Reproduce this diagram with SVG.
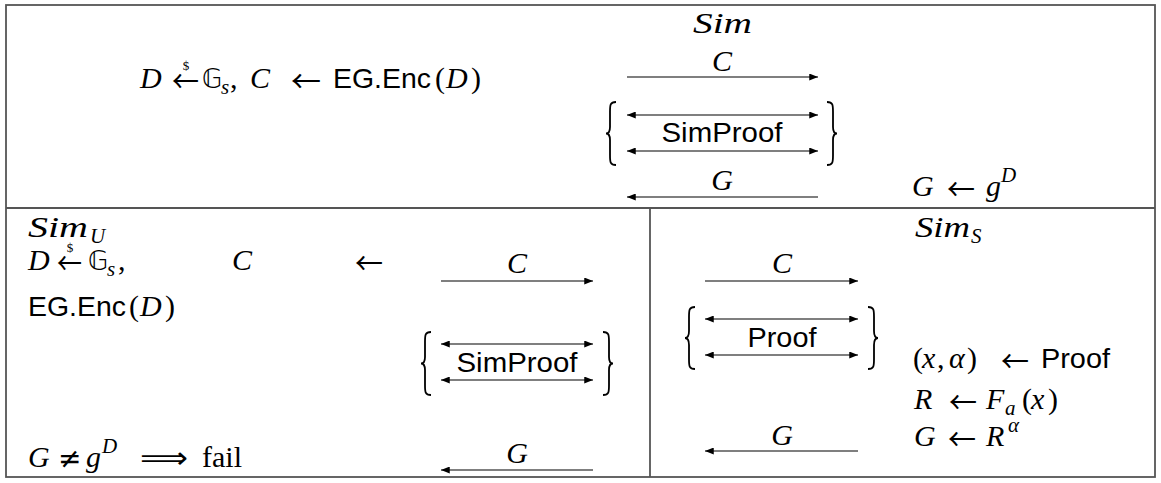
<svg xmlns="http://www.w3.org/2000/svg" width="1161" height="483" viewBox="0 0 1161 483">
<style>
.m{font-family:"Liberation Serif",serif;font-style:italic;font-size:30px;fill:#000}
.r{font-family:"Liberation Serif",serif;font-size:30px;fill:#000}
.sb{font-family:"Liberation Serif",serif;font-style:italic;font-size:21px;fill:#000}
.s{font-family:"Liberation Sans",sans-serif;font-size:28px;fill:#000}
.ds{font-family:"DejaVu Sans",sans-serif;font-size:26px;fill:#000}
.ar{font-family:"Noto Sans CJK SC","DejaVu Sans",sans-serif;font-size:30px;fill:#000}
.ar2{font-family:"DejaVu Sans",sans-serif;font-size:30px;fill:#000}
.dl{font-family:"Liberation Serif",serif;font-size:13px;fill:#000;text-anchor:middle}
.c{text-anchor:middle}
.frame{fill:none;stroke:#555;stroke-width:1.8}
.ln{stroke:#000;stroke-width:1.2;fill:none}
.br{stroke:#000;stroke-width:1.8;fill:none}
</style>
<defs>
<marker id="ah" viewBox="0 0 10 8" refX="10" refY="4" markerWidth="10" markerHeight="7" markerUnits="userSpaceOnUse" orient="auto-start-reverse">
<path d="M0,0 L10,4 L0,8 Z" fill="#000"/>
</marker>
</defs>
<g id="frame">
<rect class="frame" x="6" y="5" width="1149" height="472"/>
<line class="frame" x1="6" y1="208" x2="1155" y2="208"/>
<line class="frame" x1="650" y1="208" x2="650" y2="477"/>
</g>
<g id="connectors">
<line class="ln" x1="627" y1="77" x2="818" y2="77" marker-end="url(#ah)"/>
<line class="ln" x1="627" y1="115" x2="818" y2="115" marker-start="url(#ah)" marker-end="url(#ah)"/>
<line class="ln" x1="627" y1="151" x2="818" y2="151" marker-start="url(#ah)" marker-end="url(#ah)"/>
<line class="ln" x1="818" y1="197" x2="627" y2="197" marker-end="url(#ah)"/>
<line class="ln" x1="441" y1="281" x2="593" y2="281" marker-end="url(#ah)"/>
<line class="ln" x1="441" y1="344" x2="593" y2="344" marker-start="url(#ah)" marker-end="url(#ah)"/>
<line class="ln" x1="441" y1="380" x2="593" y2="380" marker-start="url(#ah)" marker-end="url(#ah)"/>
<line class="ln" x1="593" y1="470" x2="441" y2="470" marker-end="url(#ah)"/>
<line class="ln" x1="705" y1="281" x2="858" y2="281" marker-end="url(#ah)"/>
<line class="ln" x1="705" y1="319" x2="858" y2="319" marker-start="url(#ah)" marker-end="url(#ah)"/>
<line class="ln" x1="705" y1="355" x2="858" y2="355" marker-start="url(#ah)" marker-end="url(#ah)"/>
<line class="ln" x1="858" y1="451" x2="705" y2="451" marker-end="url(#ah)"/>
</g>
<g id="top-setup">
<text class="m" x="140" y="88">D</text>
<text class="ar" x="172" y="92" textLength="27" lengthAdjust="spacingAndGlyphs">←</text>
<text class="dl" x="186" y="70">$</text>
<text class="ds" x="202" y="88">𝔾</text>
<text class="sb" x="221" y="94">s</text>
<text class="r" x="230" y="88">,</text>
<text class="m" x="250" y="88">C</text>
<text class="ar" x="291" y="92" textLength="30" lengthAdjust="spacingAndGlyphs">←</text>
<text class="s" x="333" y="88" textLength="98" lengthAdjust="spacingAndGlyphs">EG.Enc</text>
<text class="r" x="435" y="88">(</text>
<text class="m" x="446" y="88">D</text>
<text class="r" x="471" y="88">)</text>
</g>
<g id="top-sim">
<text class="m" x="693" y="33" textLength="59" lengthAdjust="spacingAndGlyphs">Sim</text>
<text class="m c" x="722" y="71">C</text>
<path class="br" d="M616,102 C610,102 610,105 610,112 L610,127 C610,131 609,133.5 606,133.5 C609,133.5 610,136 610,140 L610,155 C610,162 610,165 616,165"/>
<text class="s c" x="722" y="142" textLength="121" lengthAdjust="spacingAndGlyphs">SimProof</text>
<path class="br" d="M827,102 C833,102 833,105 833,112 L833,127 C833,131 834,133.5 837,133.5 C834,133.5 833,136 833,140 L833,155 C833,162 833,165 827,165"/>
<text class="m c" x="722" y="190">G</text>
</g>
<g id="top-result">
<text class="m" x="912" y="196">G</text>
<text class="ar" x="947" y="200" textLength="28" lengthAdjust="spacingAndGlyphs">←</text>
<text class="m" x="986" y="196">g</text>
<text class="sb" x="1001" y="182">D</text>
</g>
<g id="sim-u">
<text class="m" x="28" y="237" textLength="60" lengthAdjust="spacingAndGlyphs">Sim</text>
<text class="sb" x="90" y="243">U</text>
<text class="m" x="28" y="270">D</text>
<text class="ar" x="57" y="274" textLength="25" lengthAdjust="spacingAndGlyphs">←</text>
<text class="dl" x="70" y="252">$</text>
<text class="ds" x="88" y="270">𝔾</text>
<text class="sb" x="107" y="276">s</text>
<text class="r" x="118" y="270">,</text>
<text class="m" x="232" y="270">C</text>
<text class="ar" x="355" y="274" textLength="28" lengthAdjust="spacingAndGlyphs">←</text>
<text class="s" x="28" y="316" textLength="98" lengthAdjust="spacingAndGlyphs">EG.Enc</text>
<text class="r" x="129" y="316">(</text>
<text class="m" x="140" y="316">D</text>
<text class="r" x="165" y="316">)</text>
<text class="m c" x="517" y="273">C</text>
<path class="br" d="M431,332 C425,332 425,335 425,342 L425,357 C425,361 424,363.5 421,363.5 C424,363.5 425,366 425,370 L425,385 C425,392 425,395 431,395"/>
<text class="s c" x="517" y="372" textLength="121" lengthAdjust="spacingAndGlyphs">SimProof</text>
<path class="br" d="M603,332 C609,332 609,335 609,342 L609,357 C609,361 610,363.5 613,363.5 C610,363.5 609,366 609,370 L609,385 C609,392 609,395 603,395"/>
<text class="m c" x="517" y="463">G</text>
<text class="m" x="28" y="467">G</text>
<text class="ar2" x="58" y="468" style="font-size:28px">≠</text>
<text class="m" x="86" y="467">g</text>
<text class="sb" x="102" y="453">D</text>
<text class="ar2" x="140" y="468" textLength="48" lengthAdjust="spacingAndGlyphs">⟹</text>
<text class="r" x="202" y="467">fail</text>
</g>
<g id="sim-s">
<text class="m" x="915" y="237" textLength="55" lengthAdjust="spacingAndGlyphs">Sim</text>
<text class="sb" x="971" y="243">S</text>
<text class="m c" x="782" y="273">C</text>
<path class="br" d="M695,307 C689,307 689,310 689,317 L689,331 C689,335 688,338 685,338 C688,338 689,341 689,345 L689,359 C689,366 689,369 695,369"/>
<text class="s c" x="782" y="347" textLength="69" lengthAdjust="spacingAndGlyphs">Proof</text>
<path class="br" d="M868,307 C874,307 874,310 874,317 L874,331 C874,335 875,338 878,338 C875,338 874,341 874,345 L874,359 C874,366 874,369 868,369"/>
<text class="m c" x="782" y="445">G</text>
</g>
<g id="sim-s-steps">
<text class="r" x="913" y="368">(</text>
<text class="m" x="922" y="368">x</text>
<text class="r" x="937" y="368">,</text>
<text class="m" x="949" y="368">α</text>
<text class="r" x="967" y="368">)</text>
<text class="ar" x="1001" y="372" textLength="28" lengthAdjust="spacingAndGlyphs">←</text>
<text class="s" x="1041" y="368" textLength="69" lengthAdjust="spacingAndGlyphs">Proof</text>
<text class="m" x="914" y="409">R</text>
<text class="ar" x="949" y="413" textLength="28" lengthAdjust="spacingAndGlyphs">←</text>
<text class="m" x="986" y="409">F</text>
<text class="sb" x="1005" y="415">a</text>
<text class="r" x="1022" y="409">(</text>
<text class="m" x="1031" y="409">x</text>
<text class="r" x="1048" y="409">)</text>
<text class="m" x="914" y="446">G</text>
<text class="ar" x="948" y="450" textLength="28" lengthAdjust="spacingAndGlyphs">←</text>
<text class="m" x="986" y="446">R</text>
<text class="sb" x="1008" y="432">α</text>
</g>
</svg>
